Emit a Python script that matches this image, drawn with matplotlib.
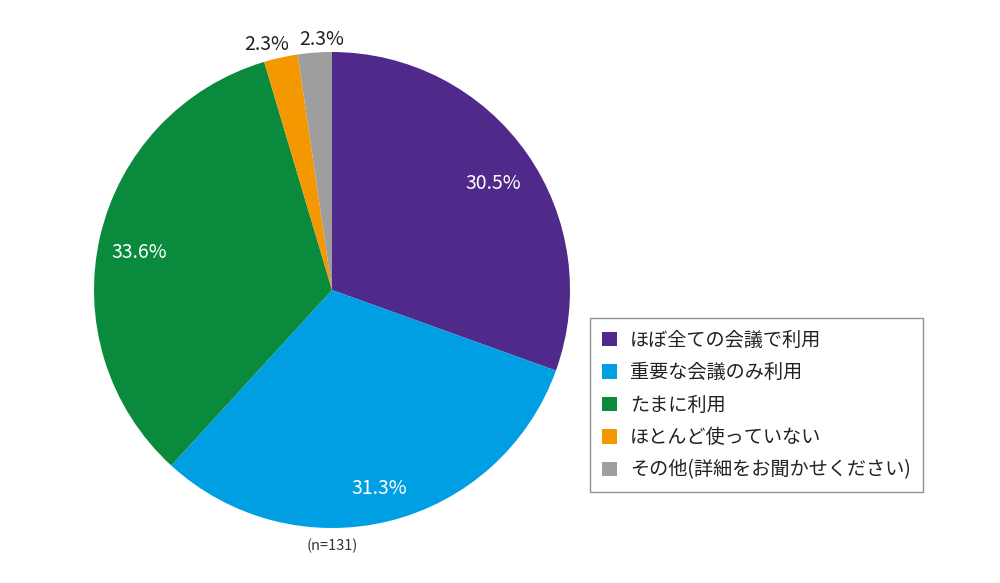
import numpy as np
import matplotlib.pyplot as plt

plt.rcParams["font.family"] = ["Noto Sans CJK JP", "DejaVu Sans"]

labels = ["ほぼ全ての会議で利用", "重要な会議のみ利用", "たまに利用",
          "ほとんど使っていない", "その他(詳細をお聞かせください)"]
values = [30.5, 31.3, 33.6, 2.3, 2.3]
colors = ["#4F2A8A", "#009FE3", "#0A8A3C", "#F39800", "#9E9E9E"]
n_total = 131

fig = plt.figure(figsize=(10, 5.83), dpi=100, facecolor="white")
ax = fig.add_axes([0.094, 0.0943, 0.476, 0.8165])

wedges, texts, autotexts = ax.pie(
    values, colors=colors, startangle=90, counterclock=False, radius=1,
    autopct="%.1f%%", pctdistance=0.83,
    textprops=dict(fontsize=14, color="white"),
    wedgeprops=dict(linewidth=0),
)
ax.set_xlim(-1, 1)
ax.set_ylim(-1, 1)
ax.set_aspect("equal")
ax.axis("off")

# CJK font sits high in its box: drop labels a little
nudge = {3: -0.045, 4: 0.035}
for i, (w, t, v) in enumerate(zip(wedges, autotexts, values)):
    ang = np.deg2rad((w.theta1 + w.theta2) / 2)
    if v < 5:
        t.set_position((1.07 * np.cos(ang) + nudge.get(i, 0), 1.07 * np.sin(ang) - 0.015))
        t.set_color("#222222")
    else:
        x, y = t.get_position()
        t.set_position((x, y - 0.03))

ax.text(0, -1.075, f"(n={n_total})", ha="center", va="center", fontsize=10.5, color="#333333")

leg = fig.legend(wedges, labels, loc="upper left", bbox_to_anchor=(0.59, 1 - 318 / 583),
                 frameon=True, fancybox=False, edgecolor="#777777", fontsize=13.8,
                 handlelength=0.8, handleheight=0.8, handletextpad=0.7,
                 labelspacing=0.6, borderpad=0.6, borderaxespad=0)
leg.get_frame().set_linewidth(1.0)
for t in leg.get_texts():
    t.set_color("#222222")

fig.savefig("out.png", dpi=100, facecolor="white")
